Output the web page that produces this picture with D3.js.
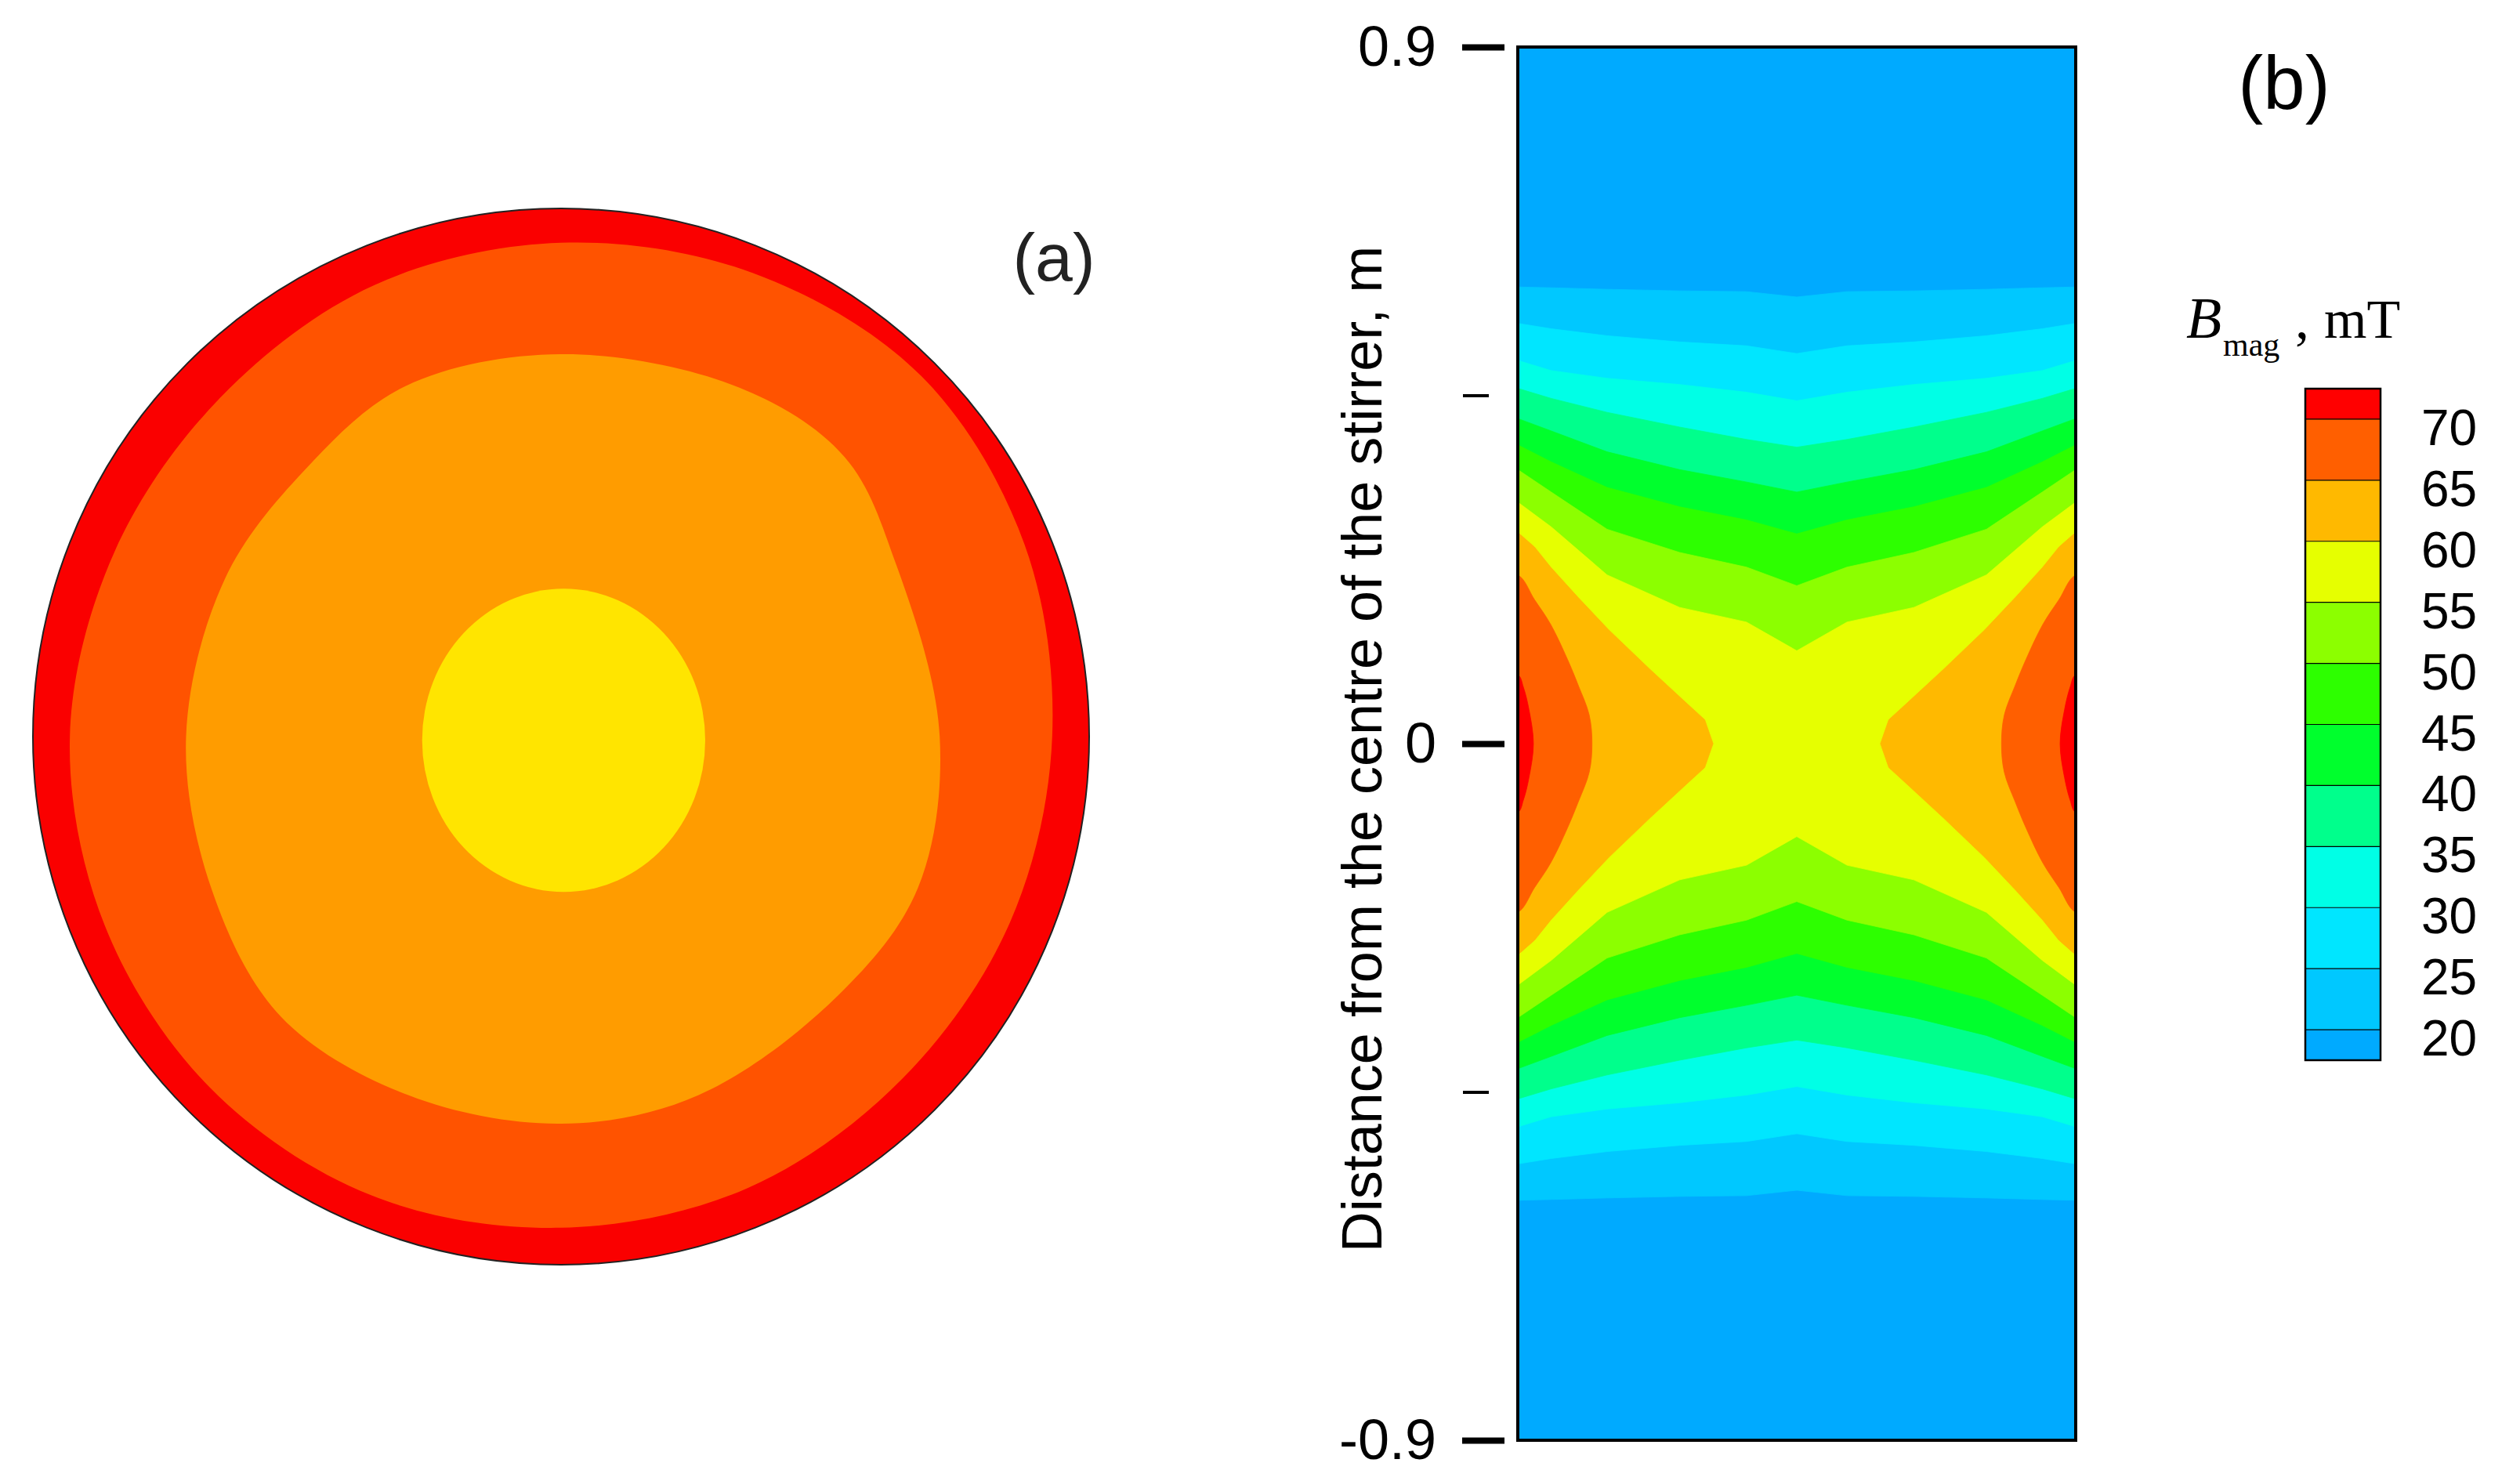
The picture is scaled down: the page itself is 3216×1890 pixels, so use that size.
<!DOCTYPE html>
<html><head><meta charset="utf-8">
<script src="https://cdn.jsdelivr.net/npm/d3@7"></script>
<style>html,body{margin:0;padding:0;background:#fff;} svg{display:block;}</style>
</head><body>
<svg id="chart" width="3216" height="1890"></svg>
<script>
// ================= DATA =================
// ---- Panel (b): B_mag contour map ----
const levels = [20, 25, 30, 35, 40, 45, 50, 55, 60, 65, 70];
const levelLabels = ['20', '25', '30', '35', '40', '45', '50', '55', '60', '65', '70'];
// band colours: below 20, 20-25, ..., 65-70, above 70
const bandColors = ['#00aaff', '#00c8ff', '#00e6ff', '#00ffe6', '#00ff8c', '#00ff2d',
                    '#2dff00', '#8cff00', '#e6ff00', '#ffb900', '#ff5f00', '#ff0000'];
// mesh columns across the stirrer width (0 = left wall, 1 = right wall)
const xNodes = [0, 0.06, 0.16, 0.29, 0.41, 0.5, 0.59, 0.71, 0.84, 0.94, 1];
// upper position (m) of each iso-line at xNodes; map is mirrored about 0
const iso20 = [0.590, 0.589, 0.587, 0.585, 0.584, 0.577, 0.584, 0.585, 0.587, 0.589, 0.590];
const iso25 = [0.543, 0.536, 0.527, 0.519, 0.514, 0.504, 0.514, 0.519, 0.527, 0.536, 0.543];
const iso30 = [0.495, 0.482, 0.472, 0.464, 0.454, 0.443, 0.454, 0.464, 0.472, 0.482, 0.495];
const iso35 = [0.459, 0.446, 0.428, 0.409, 0.393, 0.383, 0.393, 0.409, 0.428, 0.446, 0.459];
const iso40 = [0.420, 0.404, 0.377, 0.354, 0.338, 0.325, 0.338, 0.354, 0.377, 0.404, 0.420];
const iso45 = [0.386, 0.364, 0.331, 0.306, 0.289, 0.271, 0.289, 0.306, 0.331, 0.364, 0.386];
const iso50 = [0.354, 0.325, 0.277, 0.247, 0.228, 0.204, 0.228, 0.247, 0.277, 0.325, 0.354];
const iso55 = [0.312, 0.280, 0.218, 0.176, 0.157, 0.120, 0.157, 0.176, 0.218, 0.280, 0.312];
// side lobes near the walls: [distance from wall (0..1), y (m)], upper half
const lobe60 = [[0, 0.273], [0.030, 0.254], [0.059, 0.228], [0.108, 0.189], [0.163, 0.147],
                [0.237, 0.096], [0.306, 0.050], [0.335, 0.031], [0.350, 0]];
const lobe65 = [[0, 0.218], [0.030, 0.186], [0.059, 0.154], [0.089, 0.109], [0.108, 0.076],
                [0.128, 0.037], [0.133, 0]];
const lobe70 = [[0, 0.089], [0.010, 0.073], [0.020, 0.044], [0.028, 0]];
const yMajorTicks = [-0.9, 0, 0.9];
const yMajorLabels = ['-0.9', '0', '0.9'];
const yMinorTicks = [-0.45, 0.45];
const yTitle = 'Distance from the centre of the stirrer, m';

// ---- Panel (a): cross-section contours ----
const aColors = ['#fa0000', '#ff5300', '#ff9c00', '#ffe500'];
// outer edge of the 65-70 band: angle (deg, ccw from +x) and relative radius
const aAngles70 = [0, 22.5, 45, 67.5, 90, 112.5, 135, 157.5, 180, 202.5, 225, 247.5, 270, 292.5, 315, 337.5];
const aRadii70  = [0.93, 0.95, 0.965, 0.95, 0.935, 0.925, 0.91, 0.915, 0.93, 0.935, 0.94, 0.94, 0.93, 0.925, 0.915, 0.92];
// outer edge of the 60-65 band
const aAngles65 = [0, 27, 44.6, 63, 90, 114, 134, 155, 180, 203.6, 225, 247, 270, 291, 317, 337];
const aRadii65  = [0.717, 0.713, 0.754, 0.742, 0.724, 0.726, 0.70, 0.703, 0.71, 0.722, 0.75, 0.738, 0.733, 0.727, 0.718, 0.734];
// central core (above 60): ellipse radii and centre offset
const aCoreRx = 0.268, aCoreRy = 0.287, aCoreDx = 0.005, aCoreDy = -0.007;

// ================= DRAWING =================
const svg = d3.select('#chart');
const SANS = '"Liberation Sans", Arial, Helvetica, sans-serif';
const SERIF = '"Liberation Serif", "Times New Roman", serif';

// ---------- Panel (b) ----------
const fx0 = 1937, fx1 = 2649, fy0 = 60, fy1 = 1838;
const x = d3.scaleLinear().domain([0, 1]).range([fx0, fx1]);
const y = d3.scaleLinear().domain([-0.9, 0.9]).range([fy1, fy0]);
const line = d3.line().x(d => x(d[0])).y(d => y(d[1]));
const smoothClosed = d3.line().x(d => x(d[0])).y(d => y(d[1])).curve(d3.curveCatmullRomClosed.alpha(0.5));

svg.append('defs').append('clipPath').attr('id', 'frameClip')
  .append('rect').attr('x', fx0).attr('y', fy0).attr('width', fx1 - fx0).attr('height', fy1 - fy0);
const gB = svg.append('g').attr('clip-path', 'url(#frameClip)');

gB.append('rect').attr('x', fx0).attr('y', fy0).attr('width', fx1 - fx0).attr('height', fy1 - fy0)
  .attr('fill', bandColors[0]);

const isoLines = [iso20, iso25, iso30, iso35, iso40, iso45, iso50, iso55];
isoLines.forEach((iso, i) => {
  const top = xNodes.map((u, j) => [u, iso[j]]);
  const bot = xNodes.map((u, j) => [u, -iso[j]]).reverse();
  gB.append('path').attr('d', line(top.concat(bot)) + 'Z')
    .attr('fill', bandColors[i + 1]).attr('stroke', bandColors[i + 1]).attr('stroke-width', 0.8);
});

[lobe60, lobe65, lobe70].forEach((lobe, k) => {
  const col = bandColors[9 + k];
  const upper = lobe.map(p => [p[0], p[1]]);
  const lower = lobe.slice(0, -1).map(p => [p[0], -p[1]]).reverse();
  // close along the wall (outside the frame, clipped)
  const left = [[-0.05, upper[0][1]]].concat(upper, lower, [[-0.05, -upper[0][1]]]);
  const right = left.map(p => [1 - p[0], p[1]]);
  [left, right].forEach(poly => {
    const d = k === 0 ? line(poly) + 'Z' : smoothClosed(poly);
    gB.append('path').attr('d', d)
      .attr('fill', col).attr('stroke', col).attr('stroke-width', 0.8);
  });
});

svg.append('rect').attr('x', fx0).attr('y', fy0).attr('width', fx1 - fx0).attr('height', fy1 - fy0)
  .attr('fill', 'none').attr('stroke', '#000').attr('stroke-width', 4);

// y axis (major + minor ticks, detached from the frame)
const majorAxis = d3.axisLeft(y).tickValues(yMajorTicks)
  .tickFormat((d, i) => yMajorLabels[i]).tickSizeInner(54).tickSizeOuter(0).tickPadding(33);
const gMaj = svg.append('g').attr('transform', `translate(1920,0)`).call(majorAxis);
gMaj.select('.domain').remove();
gMaj.selectAll('.tick line').attr('stroke', '#000').attr('stroke-width', 8);
gMaj.selectAll('.tick text').attr('font-family', SANS).attr('font-size', 72).attr('fill', '#000');

const minorAxis = d3.axisLeft(y).tickValues(yMinorTicks).tickFormat('').tickSizeInner(33).tickSizeOuter(0);
const gMin = svg.append('g').attr('transform', `translate(1900,0)`).call(minorAxis);
gMin.select('.domain').remove();
gMin.selectAll('.tick line').attr('stroke', '#000').attr('stroke-width', 4);

svg.append('text').attr('transform', `translate(1763,956) rotate(-90)`)
  .attr('text-anchor', 'middle').attr('font-family', SANS).attr('font-size', 72).attr('fill', '#000')
  .text(yTitle);

svg.append('text').attr('x', 2915).attr('y', 139).attr('text-anchor', 'middle')
  .attr('font-family', SANS).attr('font-size', 96).attr('fill', '#000').text('(b)');

// ---------- Colour bar ----------
const cbX0 = 2942, cbX1 = 3038;
const yC = d3.scaleLinear().domain([17.5, 72.5]).range([1353, 496]);
const gC = svg.append('g');
bandColors.forEach((c, k) => {
  const lo = k === 0 ? 17.5 : levels[k - 1];
  const hi = k === bandColors.length - 1 ? 72.5 : levels[k];
  gC.append('rect').attr('x', cbX0).attr('y', yC(hi)).attr('width', cbX1 - cbX0)
    .attr('height', yC(lo) - yC(hi)).attr('fill', c);
});
levels.forEach(v => {
  gC.append('line').attr('x1', cbX0).attr('x2', cbX1).attr('y1', yC(v)).attr('y2', yC(v))
    .attr('stroke', '#000').attr('stroke-width', 1.2);
});
gC.append('rect').attr('x', cbX0).attr('y', yC(72.5)).attr('width', cbX1 - cbX0)
  .attr('height', yC(17.5) - yC(72.5)).attr('fill', 'none').attr('stroke', '#000').attr('stroke-width', 2.5);
levels.forEach((v, i) => {
  gC.append('text').attr('x', 3090).attr('y', yC(v) + 33)
    .attr('font-family', SANS).attr('font-size', 64).attr('fill', '#000').text(levelLabels[i]);
});
// title: B_mag , mT
svg.append('text').attr('x', 2790).attr('y', 431).attr('font-family', SERIF).attr('font-style', 'italic')
  .attr('font-size', 74).attr('fill', '#000').text('B');
svg.append('text').attr('x', 2837).attr('y', 454).attr('font-family', SERIF)
  .attr('font-size', 42).attr('fill', '#000').text('mag');
svg.append('text').attr('x', 2929).attr('y', 431).attr('font-family', SERIF)
  .attr('font-size', 72).attr('fill', '#000').text(',');
svg.append('text').attr('x', 2966).attr('y', 431).attr('font-family', SERIF)
  .attr('font-size', 70).attr('fill', '#000').text('mT');

// ---------- Panel (a) ----------
const acx = 716, acy = 940;
const rA = d3.scaleLinear().domain([0, 1]).range([0, 674]);
const radial = d3.lineRadial().angle(d => (90 - d[0]) * Math.PI / 180).radius(d => rA(d[1]))
  .curve(d3.curveCatmullRomClosed.alpha(0.5));
const gA = svg.append('g').attr('transform', `translate(${acx},${acy})`);
gA.append('circle').attr('r', rA(1)).attr('fill', aColors[0]).attr('stroke', '#222').attr('stroke-width', 2);
gA.append('path').attr('d', radial(aAngles70.map((a, i) => [a, aRadii70[i]]))).attr('fill', aColors[1]);
gA.append('path').attr('d', radial(aAngles65.map((a, i) => [a, aRadii65[i]]))).attr('fill', aColors[2]);
gA.append('ellipse').attr('cx', rA(aCoreDx)).attr('cy', -rA(aCoreDy))
  .attr('rx', rA(aCoreRx)).attr('ry', rA(aCoreRy)).attr('fill', aColors[3]);

svg.append('text').attr('x', 1345).attr('y', 358).attr('text-anchor', 'middle')
  .attr('font-family', SANS).attr('font-size', 86).attr('fill', '#222').text('(a)');
</script>
</body></html>
